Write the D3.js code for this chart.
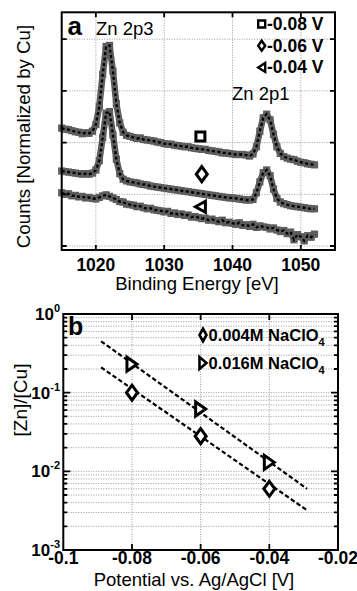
<!DOCTYPE html>
<html>
<head>
<meta charset="utf-8">
<script src="https://cdn.jsdelivr.net/npm/d3@7"></script>
<style>
  body { margin: 0; background: #fff; }
  svg { display: block; }
  text { font-family: Arial, "Liberation Sans", sans-serif; fill: #000; }
</style>
</head>
<body>
<svg id="fig" width="357" height="591"></svg>
<script>
// ---- panel a : XPS spectra ----
const energy = [
  1015,1015.5,1016,1016.5,1017,1017.5,1018,1018.5,1019,1019.5,
  1020,1020.5,1021,1021.5,1022,1022.5,1023,1023.5,1024,1024.5,
  1025,1025.5,1026,1026.5,1027,1027.5,1028,1028.5,1029,1029.5,
  1030,1030.5,1031,1031.5,1032,1032.5,1033,1033.5,1034,1034.5,
  1035,1035.5,1036,1036.5,1037,1037.5,1038,1038.5,1039,1039.5,
  1040,1040.5,1041,1041.5,1042,1042.5,1043,1043.5,1044,1044.5,
  1045,1045.5,1046,1046.5,1047,1047.5,1048,1048.5,1049,1049.5,
  1050,1050.5,1051,1051.5,1052
];
const countsM008 = [
  2.28,2.26,2.25,2.23,2.21,2.20,2.17,2.19,2.18,2.22,
  2.35,2.70,3.32,3.86,3.88,3.38,2.75,2.38,2.20,2.14,
  2.12,2.10,2.08,2.09,2.06,2.05,2.04,2.03,2.01,2.00,
  1.98,1.97,1.97,1.95,1.94,1.93,1.92,1.92,1.90,1.89,
  1.88,1.87,1.87,1.85,1.84,1.83,1.82,1.80,1.80,1.79,
  1.78,1.77,1.77,1.77,1.76,1.74,1.78,1.92,2.22,2.48,
  2.55,2.44,2.16,1.92,1.79,1.73,1.70,1.68,1.67,1.64,
  1.62,1.61,1.59,1.58,1.57
];
const countsM006 = [
  1.45,1.44,1.43,1.42,1.41,1.40,1.39,1.40,1.39,1.41,
  1.47,1.65,2.10,2.57,2.60,2.15,1.68,1.40,1.29,1.26,
  1.24,1.23,1.22,1.20,1.19,1.18,1.16,1.15,1.14,1.13,
  1.12,1.11,1.10,1.09,1.08,1.07,1.06,1.05,1.04,1.03,
  1.02,1.01,1.00,0.99,0.98,0.97,0.96,0.95,0.94,0.93,
  0.93,0.92,0.91,0.90,0.89,0.89,0.90,1.03,1.24,1.42,
  1.47,1.36,1.10,0.92,0.85,0.82,0.80,0.78,0.77,0.76,
  0.75,0.74,0.73,0.72,0.72
];
const countsM004 = [
  1.03,1.00,1.01,0.97,0.98,0.95,0.96,0.93,0.94,0.92,
  0.91,0.94,0.97,0.99,0.96,0.93,0.90,0.86,0.85,0.81,
  0.80,0.79,0.76,0.77,0.74,0.72,0.73,0.70,0.69,0.68,
  0.66,0.67,0.63,0.64,0.61,0.62,0.59,0.60,0.56,0.57,
  0.55,0.53,0.54,0.50,0.52,0.49,0.47,0.50,0.45,0.46,
  0.44,0.42,0.45,0.40,0.41,0.38,0.42,0.36,0.39,0.37,
  0.36,0.33,0.35,0.31,0.28,0.30,0.24,0.27,0.12,0.22,
  0.18,0.10,0.20,0.17,0.23
];
const energyTicks = [1020, 1030, 1040, 1050];
const countTicks = [0, 1, 2, 3, 4];
const spectrumNames = ["-0.08 V", "-0.06 V", "-0.04 V"];

// ---- panel b : [Zn]/[Cu] vs potential ----
const potential = [-0.08, -0.06, -0.04];
const ratio004 = [0.100, 0.028, 0.0060];
const ratio016 = [0.230, 0.062, 0.0130];
const fitPotential = [-0.089, -0.029];
const fit004 = [0.21, 0.0032];
const fit016 = [0.45, 0.0060];
const potentialTicks = [-0.1, -0.08, -0.06, -0.04, -0.02];
const ratioTicks = [1e-3, 1e-2, 1e-1, 1];
const ratioExp = ["-3", "-2", "-1", "0"];

const svg = d3.select("#fig");

// custom marker shapes
const sq = s => ({ draw(c) { c.rect(-s / 2, -s / 2, s, s); } });
const dia = (w, h) => ({ draw(c) { c.moveTo(0, -h / 2); c.lineTo(w / 2, 0); c.lineTo(0, h / 2); c.lineTo(-w / 2, 0); c.closePath(); } });
const tri = (dir, w, h) => ({ draw(c) { c.moveTo(dir * w / 2, 0); c.lineTo(-dir * w / 2, -h / 2); c.lineTo(-dir * w / 2, h / 2); c.closePath(); } });

function frame(g, x, y) {
  g.append("rect")
    .attr("x", x.range()[0]).attr("y", y.range()[1])
    .attr("width", x.range()[1] - x.range()[0])
    .attr("height", y.range()[0] - y.range()[1])
    .attr("fill", "none").attr("stroke", "#000").attr("stroke-width", 2);
}

function grid(g, x, y, xs, ys) {
  const [x0, x1] = x.range(), [y1, y0] = y.range();
  g.selectAll(null).data(xs).join("line")
    .attr("x1", d => x(d)).attr("x2", d => x(d)).attr("y1", y0).attr("y2", y1)
    .attr("stroke", "#9a9a9a").attr("stroke-width", 1).attr("stroke-dasharray", "1,1.5");
  g.selectAll(null).data(ys).join("line")
    .attr("y1", d => y(d)).attr("y2", d => y(d)).attr("x1", x0).attr("x2", x1)
    .attr("stroke", "#9a9a9a").attr("stroke-width", 1).attr("stroke-dasharray", "1,1.5");
}

function ticks(g, x, y, xs, ys, len, lenFn) {
  const [x0, x1] = x.range(), [y1, y0] = y.range();
  g.selectAll(null).data(xs).join("path")
    .attr("d", d => `M${x(d)},${y1}v${-len}M${x(d)},${y0}v${len}`)
    .attr("stroke", "#000").attr("stroke-width", 1.8);
  g.selectAll(null).data(ys).join("path")
    .attr("d", d => { const l = lenFn ? lenFn(d) : len; return `M${x0},${y(d)}h${l}M${x1},${y(d)}h${-l}`; })
    .attr("stroke", "#000").attr("stroke-width", 1.8);
}

// ================= panel a =================
const xa = d3.scaleLinear().domain([1015, 1055]).range([61.7, 335]);
const ya = d3.scaleLinear().domain([-0.077, 4.52]).range([250, 12.3]);
const ga = svg.append("g");

grid(ga, xa, ya, energyTicks, countTicks);

const specLine = d3.line().x(d => xa(d[0])).y(d => ya(d[1]));
[countsM008, countsM006, countsM004].forEach(vals => {
  const pts = energy.map((e, i) => [e, vals[i]]);
  // grey marker band
  ga.append("path").datum(pts).attr("d", specLine)
    .attr("fill", "none").attr("stroke", "#5e5e5e")
    .attr("stroke-width", 6.5).attr("stroke-linejoin", "round");
  ga.append("g").selectAll("rect").data(pts).join("rect")
    .attr("x", d => xa(d[0]) - 3.6).attr("y", d => ya(d[1]) - 3.6)
    .attr("width", 7.2).attr("height", 7.2)
    .attr("fill", "#5e5e5e");
  ga.append("path").datum(pts).attr("d", specLine)
    .attr("fill", "none").attr("stroke", "#000")
    .attr("stroke-width", 2.3).attr("stroke-dasharray", "3,2.5");
});

// inline curve markers
const inlineMarks = [
  { e: 1035.3, v: 2.12, t: sq(9) },
  { e: 1035.5, v: 1.39, t: dia(11, 15) },
  { e: 1035.3, v: 0.76, t: tri(-1, 10, 11) }
];
ga.selectAll(null).data(inlineMarks).join("path")
  .attr("transform", d => `translate(${xa(d.e)},${ya(d.v)})`)
  .attr("d", d => d3.symbol().type(d.t)())
  .attr("fill", "#fff").attr("stroke", "#000").attr("stroke-width", 3);

ticks(ga, xa, ya, energyTicks, countTicks, 5);
frame(ga, xa, ya);

ga.selectAll(null).data(energyTicks).join("text")
  .attr("x", d => xa(d)).attr("y", 270.5)
  .attr("text-anchor", "middle").attr("font-weight", "bold").attr("font-size", 17.5)
  .text(d => d);

ga.append("text").attr("x", 197).attr("y", 290)
  .attr("text-anchor", "middle").attr("font-size", 18.5)
  .text("Binding Energy [eV]");
ga.append("text").attr("transform", "translate(30,136.5) rotate(-90)")
  .attr("text-anchor", "middle").attr("font-size", 18.7)
  .text("Counts [Normalized by Cu]");

ga.append("text").attr("x", 67.5).attr("y", 35).attr("font-weight", "bold").attr("font-size", 26).text("a");
ga.append("text").attr("x", 96).attr("y", 35).attr("font-size", 18.5).text("Zn 2p3");
ga.append("text").attr("x", 232).attr("y", 100).attr("font-size", 18.5).text("Zn 2p1");

// legend a
const legA = [sq(7), dia(7, 10), tri(-1, 7, 9)];
legA.forEach((t, i) => {
  const cy = 24 + i * 21.7;
  ga.append("path").attr("transform", `translate(261.7,${cy})`)
    .attr("d", d3.symbol().type(t)())
    .attr("fill", "#fff").attr("stroke", "#000").attr("stroke-width", 2.4);
  ga.append("text").attr("x", 267).attr("y", cy + 6)
    .attr("font-weight", "bold").attr("font-size", 17.5).text(spectrumNames[i]);
});

// ================= panel b =================
const xb = d3.scaleLinear().domain([-0.1, -0.02]).range([63.3, 338]);
const yb = d3.scaleLog().domain([1e-3, 1]).range([550, 314]);
const gb = svg.append("g");

const allRatioTicks = yb.ticks();
grid(gb, xb, yb, potentialTicks.slice(1, -1), allRatioTicks);

const fitLine = d3.line().x(d => xb(d[0])).y(d => yb(d[1]));
[fit016, fit004].forEach(f => {
  gb.append("path").datum(fitPotential.map((p, i) => [p, f[i]]))
    .attr("d", fitLine)
    .attr("fill", "none").attr("stroke", "#000")
    .attr("stroke-width", 2.2).attr("stroke-dasharray", "4.5,2.5");
});

gb.selectAll(null).data(potential.map((p, i) => [p, ratio004[i]])).join("path")
  .attr("transform", d => `translate(${xb(d[0])},${yb(d[1])})`)
  .attr("d", d3.symbol().type(dia(11, 15))())
  .attr("fill", "#fff").attr("stroke", "#000").attr("stroke-width", 3);
gb.selectAll(null).data(potential.map((p, i) => [p, ratio016[i]])).join("path")
  .attr("transform", d => `translate(${xb(d[0])},${yb(d[1])})`)
  .attr("d", d3.symbol().type(tri(1, 10, 14))())
  .attr("fill", "#fff").attr("stroke", "#000").attr("stroke-width", 3);

ticks(gb, xb, yb, potentialTicks.slice(1, -1), allRatioTicks, 6,
  d => (ratioTicks.includes(d) ? 7 : 4));
frame(gb, xb, yb);

gb.selectAll(null).data(potentialTicks).join("text")
  .attr("x", d => xb(d)).attr("y", 564)
  .attr("text-anchor", "middle").attr("font-weight", "bold").attr("font-size", 17.5)
  .text(d => String(d));

const yLab = gb.selectAll(null).data(ratioTicks).join("text")
  .attr("x", 60).attr("y", d => yb(d) + 6)
  .attr("text-anchor", "end").attr("font-weight", "bold").attr("font-size", 17);
yLab.append("tspan").text("10");
yLab.append("tspan").attr("dy", -8).attr("font-size", 11).text((d, i) => ratioExp[i]);

gb.append("text").attr("x", 194).attr("y", 585.5)
  .attr("text-anchor", "middle").attr("font-size", 18.5)
  .text("Potential vs. Ag/AgCl [V]");
gb.append("text").attr("transform", "translate(27,400) rotate(-90)")
  .attr("text-anchor", "middle").attr("font-size", 19)
  .text("[Zn]/[Cu]");

gb.append("text").attr("x", 68).attr("y", 335).attr("font-weight", "bold").attr("font-size", 25).text("b");

// legend b
const legB = [
  { t: dia(7, 12.5), label: "0.004M NaClO", cy: 335 },
  { t: tri(1, 7, 12), label: "0.016M NaClO", cy: 363 }
];
legB.forEach(l => {
  gb.append("path").attr("transform", `translate(203,${l.cy})`)
    .attr("d", d3.symbol().type(l.t)())
    .attr("fill", "#fff").attr("stroke", "#000").attr("stroke-width", 2.6);
  const t = gb.append("text").attr("x", 208.5).attr("y", l.cy + 6)
    .attr("font-weight", "bold").attr("font-size", 16.5);
  t.append("tspan").text(l.label);
  t.append("tspan").attr("dy", 5).attr("font-size", 11).text("4");
});
</script>
</body>
</html>
